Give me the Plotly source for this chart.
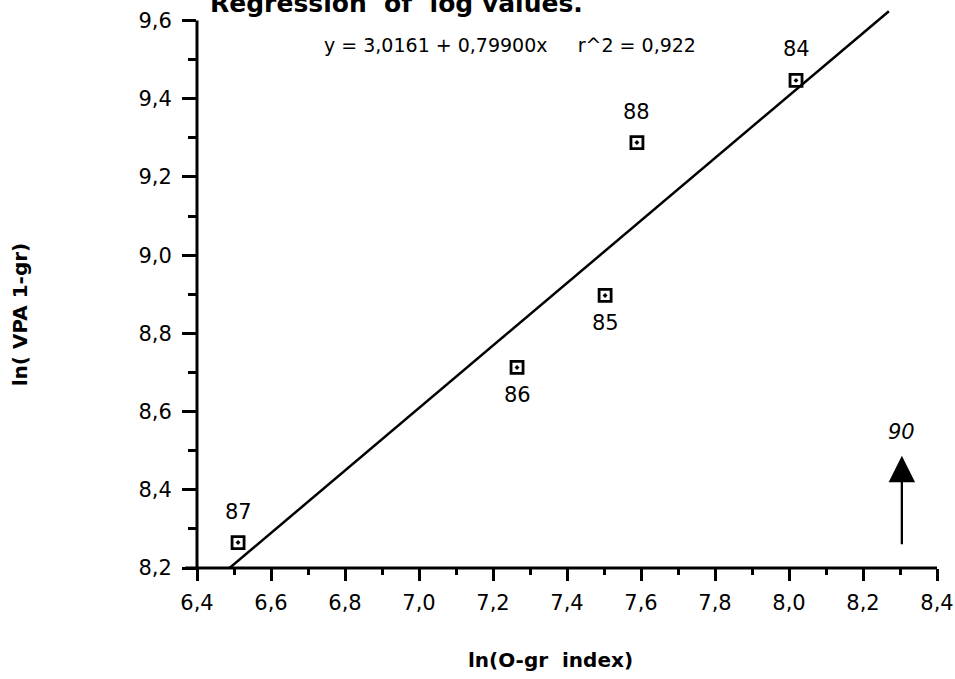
import plotly.graph_objects as go

# ---- data ----
years = ["84", "88", "85", "86", "87"]
ln_ogr_index = [8.019, 7.589, 7.503, 7.265, 6.511]
ln_vpa_1gr = [9.447, 9.288, 8.897, 8.713, 8.265]
label_side = ["above", "above", "below", "below", "above"]

intercept = 3.0161
slope = 0.79900
r_squared = 0.922
fit_x_extent = [6.488, 8.27]

arrow_year = "90"
arrow_x = 8.305
arrow_y_from = 8.257
arrow_y_to = 8.487

x_ticks = [6.4, 6.6, 6.8, 7.0, 7.2, 7.4, 7.6, 7.8, 8.0, 8.2, 8.4]
y_ticks = [8.2, 8.4, 8.6, 8.8, 9.0, 9.2, 9.4, 9.6]

FONT = "DejaVu Sans, Liberation Sans, Arial, sans-serif"

fit_y = [intercept + slope * v for v in fit_x_extent]

fig = go.Figure()
fig.add_trace(go.Scatter(
    x=fit_x_extent, y=fit_y, mode="lines",
    line=dict(color="black", width=2.5), hoverinfo="skip", showlegend=False))
fig.add_trace(go.Scatter(
    x=ln_ogr_index, y=ln_vpa_1gr, mode="markers",
    marker=dict(symbol="square-open-dot", size=12, color="black",
                line=dict(color="black", width=2.8)),
    cliponaxis=False, showlegend=False))

annotations = []
for xv, yv, lab, side in zip(ln_ogr_index, ln_vpa_1gr, years, label_side):
    annotations.append(dict(
        x=xv, y=yv, xref="x", yref="y", text=lab, showarrow=False,
        xanchor="center", yanchor="middle",
        yshift=31 if side == "above" else -28,
        font=dict(family=FONT, size=21, color="black")))

# arrow marking year 90
annotations.append(dict(
    x=arrow_x, y=arrow_y_to, ax=arrow_x, ay=arrow_y_from,
    xref="x", yref="y", axref="x", ayref="y", text="",
    showarrow=True, arrowhead=2, arrowsize=2.3, arrowwidth=2.3,
    arrowcolor="black"))
annotations.append(dict(
    x=arrow_x, y=arrow_y_to, xref="x", yref="y", text="<i>" + arrow_year + "</i>",
    showarrow=False, xanchor="center", yanchor="middle", yshift=24,
    font=dict(family=FONT, size=21, color="black")))

# equation
eq = "y = {} + {}x     r^2 = {}".format(
    f"{intercept:.4f}".replace(".", ","),
    f"{slope:.5f}".replace(".", ","),
    f"{r_squared:.3f}".replace(".", ","))
annotations.append(dict(
    x=0.423, y=0.922, xref="paper", yref="paper", text=eq, showarrow=False,
    xanchor="center", yanchor="middle",
    font=dict(family=FONT, size=19, color="black")))

# title (cut at the top in the reference)
annotations.append(dict(
    x=0.015, y=1, xref="paper", yref="paper", xanchor="left", yanchor="bottom",
    yshift=-19, text="<b>Regression  of  log values.</b>", showarrow=False,
    font=dict(family=FONT, size=25, color="black")))

# axis titles
annotations.append(dict(
    x=0.478, y=-0.162, xref="paper", yref="paper", xanchor="center", yanchor="middle",
    text="<b>ln(O-gr  index)</b>", showarrow=False,
    font=dict(family=FONT, size=20, color="black")))
annotations.append(dict(
    x=-0.239, y=0.446, xref="paper", yref="paper", textangle=-90,
    xanchor="center", yanchor="middle",
    text="<b>ln( VPA 1-gr)</b>", showarrow=False,
    font=dict(family=FONT, size=20, color="black")))

shapes = [
    dict(type="line", xref="paper", yref="paper", x0=0, x1=0, y0=0,
         y1=(9.6 - 8.2) / (9.65 - 8.2), line=dict(color="black", width=3)),
    dict(type="line", xref="paper", yref="paper", x0=-0.016, x1=1, y0=0, y1=0,
         line=dict(color="black", width=3)),
]

fig.update_layout(
    width=955, height=679,
    margin=dict(l=197, r=18, t=1, b=111),
    paper_bgcolor="white", plot_bgcolor="white",
    separators=", ",
    font=dict(family=FONT, size=20, color="black"),
    annotations=annotations, shapes=shapes,
    xaxis=dict(
        range=[6.4, 8.4], tickvals=x_ticks, tickformat=".1f",
        ticks="outside", ticklen=12, tickwidth=2.5, tickcolor="black",
        minor=dict(ticks="outside", ticklen=6, tickwidth=2.5, tickcolor="black",
                   dtick=0.1, tick0=6.4),
        showgrid=False, zeroline=False, showline=False,
        ticklabelstandoff=4,
        tickfont=dict(family=FONT, size=21, color="black")),
    yaxis=dict(
        range=[8.2, 9.65], tickvals=y_ticks, tickformat=".1f",
        ticks="outside", ticklen=14, tickwidth=2.5, tickcolor="black",
        minor=dict(ticks="outside", ticklen=8, tickwidth=2.5, tickcolor="black",
                   dtick=0.1, tick0=8.2),
        showgrid=False, zeroline=False, showline=False,
        ticklabelstandoff=6,
        tickfont=dict(family=FONT, size=21, color="black")),
)

fig.write_html("out.html")
